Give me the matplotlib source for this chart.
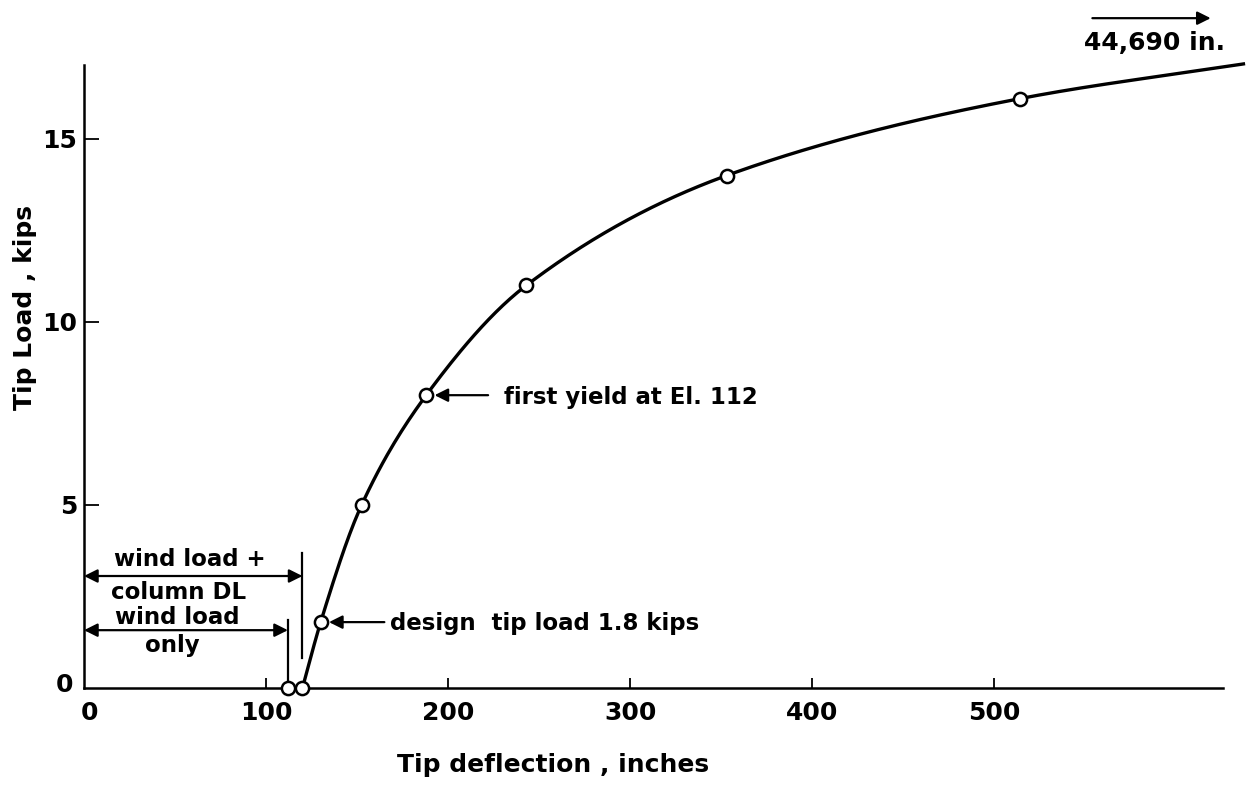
import numpy as np
import matplotlib
matplotlib.use("Agg")
import matplotlib.pyplot as plt

# load-deflection points (deflection in inches, load in kips)
curve_defl = [120, 130, 152.5, 188, 243, 353, 514]
curve_load = [0, 1.8, 5, 8, 11, 14, 16.1]
# the drawn curve runs on past the last point and off the right edge
tail_defl = 637
tail_load = 17.05
# wind-load-only deflection at zero tip load
wind_only_defl = 112

x_ticks = [100, 200, 300, 400, 500]
x_ticklabels = ["100", "200", "300", "400", "500"]
y_ticks = [5, 10, 15]
y_ticklabels = ["5", "10", "15"]


def pchip(x, y, xs):
    """Monotone cubic through the read points (only used to draw the line)."""
    x = np.asarray(x, float)
    y = np.asarray(y, float)
    h = np.diff(x)
    d = np.diff(y) / h
    m = np.zeros_like(y)
    for k in range(1, len(x) - 1):
        if d[k - 1] * d[k] > 0:
            w1 = 2 * h[k] + h[k - 1]
            w2 = h[k] + 2 * h[k - 1]
            m[k] = (w1 + w2) / (w1 / d[k - 1] + w2 / d[k])
    m[0] = d[0]
    m[-1] = d[-1]
    out = np.empty_like(xs)
    for i, xv in enumerate(xs):
        k = min(max(np.searchsorted(x, xv) - 1, 0), len(x) - 2)
        t = (xv - x[k]) / h[k]
        h00 = 2 * t**3 - 3 * t**2 + 1
        h10 = t**3 - 2 * t**2 + t
        h01 = -2 * t**3 + 3 * t**2
        h11 = t**3 - t**2
        out[i] = h00 * y[k] + h10 * h[k] * m[k] + h01 * y[k + 1] + h11 * h[k] * m[k + 1]
    return out


plt.rcParams['font.family'] = ['DejaVu Sans']
TICK_FS = 18
LABEL_FS = 18
NOTE_FS = 16.5

fig = plt.figure(figsize=(12.47, 7.92), dpi=100)
ax = fig.add_axes([0.0674, 0.1313, 0.9134, 0.7866])
ax.set_xlim(0, 625.8)
ax.set_ylim(0, 17.02)

# curve
all_x = curve_defl + [tail_defl]
all_y = curve_load + [tail_load]
xs = np.linspace(all_x[0], all_x[-1], 400)
ax.plot(xs, pchip(all_x, all_y, xs), color='black', lw=2.4, clip_on=False, zorder=3)

# test points
ax.plot(curve_defl, curve_load, 'o', ms=9.5, mfc='white', mec='black', mew=1.8,
        clip_on=False, zorder=4)
ax.plot([wind_only_defl], [0], 'o', ms=9.5, mfc='white', mec='black', mew=1.8,
        clip_on=False, zorder=4)

# axes styling
for side in ['top', 'right']:
    ax.spines[side].set_visible(False)
for side in ['left', 'bottom']:
    ax.spines[side].set_linewidth(1.8)
ax.set_xticks(x_ticks)
ax.set_xticklabels(x_ticklabels)
ax.set_yticks(y_ticks)
ax.set_yticklabels(y_ticklabels)
ax.tick_params(axis='x', direction='in', length=7, width=1.3, pad=9,
               labelsize=TICK_FS)
ax.tick_params(axis='y', direction='in', length=11, width=1.3, pad=5,
               labelsize=TICK_FS)
for lab in ax.get_xticklabels() + ax.get_yticklabels():
    lab.set_fontweight('bold')
# zero labels at the origin
ax.text(3, -0.68, "0", ha='center', va='center', fontsize=TICK_FS, fontweight='bold')
ax.text(-11, 0.08, "0", ha='center', va='center', fontsize=TICK_FS, fontweight='bold')

ax.set_xlabel("Tip deflection , inches", fontsize=LABEL_FS, fontweight='bold')
ax.xaxis.set_label_coords(0.412, -0.124)
ax.xaxis.label.set_va('center')
ax.set_ylabel("Tip Load , kips", fontsize=LABEL_FS, fontweight='bold')
ax.yaxis.set_label_coords(-0.052, 0.61)
ax.yaxis.label.set_va('center')

# dimension arrows for the zero-load deflections
dim = dict(arrowstyle='<|-|>', color='black', lw=1.6, mutation_scale=20,
           shrinkA=0, shrinkB=0)
ax.annotate("", xy=(0, 3.06), xytext=(curve_defl[0], 3.06), arrowprops=dim)
ax.annotate("", xy=(0, 1.58), xytext=(wind_only_defl, 1.58), arrowprops=dim)
ax.plot([curve_defl[0], curve_defl[0]], [0.82, 3.69], color='black', lw=1.6)
ax.plot([wind_only_defl, wind_only_defl], [0.08, 1.86], color='black', lw=1.6)
ax.text(58, 3.52, "wind load +", ha='center', va='center', fontsize=NOTE_FS,
        fontweight='bold')
ax.text(52, 2.62, "column DL", ha='center', va='center', fontsize=NOTE_FS,
        fontweight='bold')
ax.text(51, 1.94, "wind load", ha='center', va='center', fontsize=NOTE_FS,
        fontweight='bold')
ax.text(48.5, 1.17, "only", ha='center', va='center', fontsize=NOTE_FS,
        fontweight='bold')

# pointer notes
ptr = dict(arrowstyle='-|>', color='black', lw=1.6, mutation_scale=20,
           shrinkA=0, shrinkB=6)
ax.annotate("", xy=(curve_defl[3], curve_load[3]), xytext=(222, 8.0),
            arrowprops=ptr)
ax.text(231, 7.95, "first yield at El. 112", ha='left', va='center',
        fontsize=NOTE_FS, fontweight='bold')
ax.annotate("", xy=(curve_defl[1], curve_load[1]), xytext=(165, 1.8),
            arrowprops=ptr)
ax.text(168, 1.75, "design  tip load 1.8 kips", ha='left', va='center',
        fontsize=NOTE_FS, fontweight='bold')

# off-scale note at top right
ax.annotate("", xy=(619, 18.3), xytext=(554, 18.3), annotation_clip=False,
            arrowprops=dict(arrowstyle='-|>', color='black', lw=1.6,
                            mutation_scale=20, shrinkA=0, shrinkB=0))
ax.text(588, 17.62, "44,690 in.", ha='center', va='center', fontsize=18,
        fontweight='bold', clip_on=False)

fig.savefig("out.png", dpi=100)
